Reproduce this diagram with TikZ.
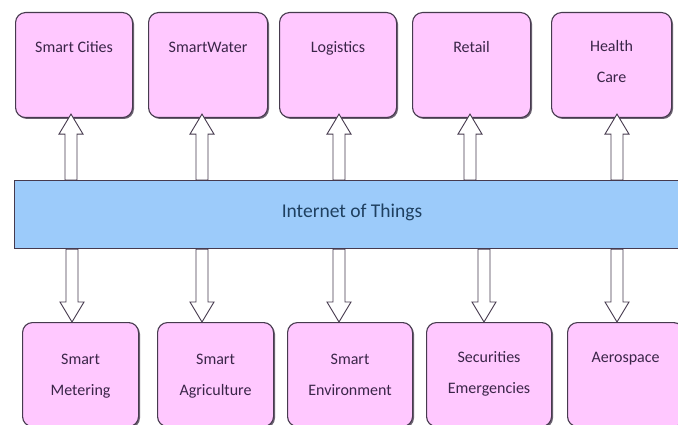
\documentclass[tikz,border=0pt]{standalone}
\usepackage{fontspec}
\setmainfont{Carlito}
\usetikzlibrary{calc}

\definecolor{boxpink}{RGB}{255,200,255}
\definecolor{bandblue}{RGB}{156,203,250}
\definecolor{edge}{RGB}{70,58,78}
\definecolor{boxtext}{RGB}{58,37,72}
\definecolor{bandtext}{RGB}{31,64,96}
\definecolor{shade}{RGB}{110,100,115}

\tikzset{
  appbox/.style={draw=edge, line width=1.1pt, fill=boxpink, rounded corners=10pt,
    inner sep=0pt, anchor=north west},
  boxshadow/.style={fill=shade, rounded corners=10pt},
  lbl/.style={text=boxtext, align=center, anchor=base, inner sep=0pt,
    font=\fontsize{16pt}{31pt}\selectfont},
  bandbox/.style={draw=edge, line width=1.1pt, fill=bandblue, inner sep=0pt, anchor=north west},
  hollow/.style={draw=edge, line width=0.9pt, fill=white, line join=miter},
}

% hollow block arrow from #1 (tail) to #2 (tip), vertical
\newcommand{\blockarrow}[2]{%
  \path[hollow] let \p1=#1, \p2=#2, \n1={20*sign(\y2-\y1)} in
    (\x1-6pt,\y1) -- (\x1-6pt,\y2-\n1) -- (\x1-12pt,\y2-\n1) -- (\x1,\y2)
    -- (\x1+12pt,\y2-\n1) -- (\x1+6pt,\y2-\n1) -- (\x1+6pt,\y1) -- cycle;}

% box with drop shadow: name, left x, top y, width, height
\newcommand{\appbox}[5]{%
  \fill[boxshadow] (#2+2,#3+2) rectangle (#2+#4+2,#3+#5+2);
  \node[appbox, minimum width=#4pt, minimum height=#5pt] (#1) at (#2,#3) {};}

\begin{document}
\begin{tikzpicture}[x=1pt,y=-1pt]
\useasboundingbox (0,0) rectangle (678,425);
\fill[white] (0,0) rectangle (678,425);

% central band
\node[bandbox, minimum width=680pt, minimum height=68pt] (band) at (14,180) {};
\node[text=bandtext, font=\fontsize{19.5pt}{23pt}\selectfont, anchor=base, inner sep=0pt]
  (iot) at (352,218) {Internet of Things};

% upper row of applications
\appbox{t1}{15}{12}{117}{105}
\appbox{t2}{148}{12}{119}{105}
\appbox{t3}{279}{12}{117}{105}
\appbox{t4}{412}{12}{118}{105}
\appbox{t5}{551}{12}{120}{105}

% labels: the base anchor sits on the last line, so two-line labels go 31pt lower
\node[lbl] (t1l) at ([yshift=-41pt]t1.north) {Smart Cities};
\node[lbl] (t2l) at ([yshift=-41pt]t2.north) {SmartWater};
\node[lbl] (t3l) at ([yshift=-41pt]t3.north) {Logistics};
\node[lbl] (t4l) at ([yshift=-41pt]t4.north) {Retail};
\node[lbl] (t5l) at ([yshift=-71pt]t5.north) {Health\\Care};

% lower row of applications
\appbox{b1}{22}{322}{116}{104}
\appbox{b2}{157}{322}{116}{104}
\appbox{b3}{287}{322}{125}{104}
\appbox{b4}{426}{322}{125}{104}
\appbox{b5}{567}{322}{116}{104}

\node[lbl] (b1l) at ([yshift=-73pt]b1.north) {Smart\\Metering};
\node[lbl] (b2l) at ([yshift=-73pt]b2.north) {Smart\\Agriculture};
\node[lbl] (b3l) at ([yshift=-73pt]b3.north) {Smart\\Environment};
\node[lbl] (b4l) at ([yshift=-71pt]b4.north) {Securities\\Emergencies};
\node[lbl] (b5l) at ([yshift=-40pt]b5.north) {Aerospace};

% arrows from the band up to the upper row
\blockarrow{(band.north -| 71,0)}{([yshift=4pt]t1.south -| 71,0)}
\blockarrow{(band.north -| 202,0)}{([yshift=4pt]t2.south -| 202,0)}
\blockarrow{(band.north -| 339,0)}{([yshift=4pt]t3.south -| 339,0)}
\blockarrow{(band.north -| 470,0)}{([yshift=4pt]t4.south -| 470,0)}
\blockarrow{(band.north -| 617,0)}{([yshift=4pt]t5.south -| 617,0)}

% arrows from the band down to the lower row
\blockarrow{(band.south -| 72,0)}{(b1.north -| 72,0)}
\blockarrow{(band.south -| 202,0)}{(b2.north -| 202,0)}
\blockarrow{(band.south -| 339,0)}{(b3.north -| 339,0)}
\blockarrow{(band.south -| 484,0)}{(b4.north -| 484,0)}
\blockarrow{(band.south -| 617,0)}{(b5.north -| 617,0)}
\end{tikzpicture}
\end{document}
